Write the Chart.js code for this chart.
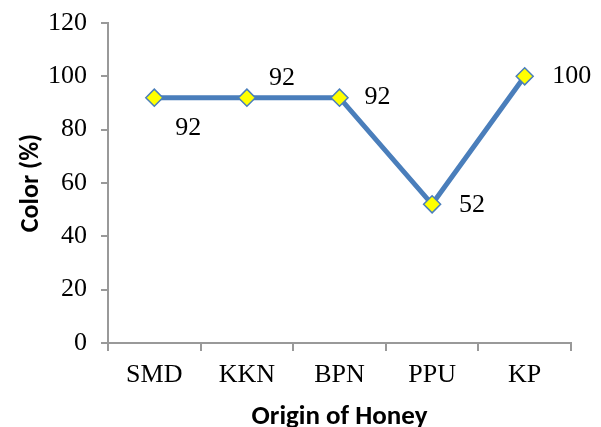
<!DOCTYPE html>
<html>
<head>
<meta charset="utf-8">
<script src="https://cdn.jsdelivr.net/npm/chart.js@4/dist/chart.umd.min.js"></script>
<style>
html,body{margin:0;padding:0;background:#fff;}
#wrap{width:601px;height:427px;position:relative;}
</style>
</head>
<body>
<div id="wrap"><canvas id="c" width="601" height="427"></canvas></div>
<script>
const categories = ["SMD", "KKN", "BPN", "PPU", "KP"];
const colorValues = [92, 92, 92, 52, 100];
const yTicks = [0, 20, 40, 60, 80, 100, 120];

const SERIF = '"Liberation Serif", "Times New Roman", serif';
const SANS = 'Carlito, Calibri, "Liberation Sans", sans-serif';

const labelPlugin = {
  id: 'pointLabels',
  afterDatasetsDraw(chart) {
    const offs = [[34, 31], [35, -19], [38, 0], [40, 1], [47, 0]];
    const ctx = chart.ctx;
    const meta = chart.getDatasetMeta(0);
    ctx.save();
    ctx.font = '26px ' + SERIF;
    ctx.fillStyle = '#000';
    ctx.textAlign = 'center';
    ctx.textBaseline = 'middle';
    meta.data.forEach((pt, i) => {
      const o = offs[i] || [35, 0];
      ctx.fillText(String(colorValues[i]), pt.x + o[0], pt.y + o[1]);
    });
    ctx.restore();
  }
};

new Chart(document.getElementById('c'), {
  type: 'line',
  data: {
    labels: categories,
    datasets: [{
      data: colorValues,
      borderColor: '#4a7ebb',
      borderWidth: 5,
      tension: 0,
      pointStyle: 'rectRot',
      pointRadius: 8.5,
      pointHoverRadius: 8.5,
      pointBackgroundColor: '#ffff00',
      pointBorderColor: '#4a7ebb',
      pointBorderWidth: 1.5,
      fill: false
    }]
  },
  options: {
    responsive: false,
    animation: false,
    events: [],
    layout: { padding: { top: 23, right: 30, left: 0, bottom: 0 } },
    plugins: { legend: { display: false }, tooltip: { enabled: false } },
    scales: {
      x: {
        type: 'category',
        offset: true,
        grid: { display: true, drawOnChartArea: false, drawTicks: true, tickLength: 8, color: '#999', lineWidth: 2, offset: true },
        border: { display: true, color: '#999', width: 2 },
        ticks: { color: '#000', font: { family: SERIF, size: 26 }, padding: 9, maxRotation: 0 },
        title: { display: true, text: 'Origin of Honey', color: '#000', font: { family: SANS, size: 27, weight: 'bold', lineHeight: 0.85 }, padding: { top: 0, bottom: -2 } },
        afterFit(scale) { scale.height = 84; scale.paddingLeft = 0; scale.paddingRight = 0; }
      },
      y: {
        min: 0, max: 120,
        afterBuildTicks(scale) { scale.ticks = yTicks.map(v => ({ value: v })); },
        grid: { display: true, drawOnChartArea: false, drawTicks: true, tickLength: 7, color: '#999', lineWidth: 2 },
        border: { display: true, color: '#999', width: 2 },
        ticks: { color: '#000', font: { family: SERIF, size: 26 }, padding: 14 },
        title: { display: true, text: 'Color (%)', color: '#000', font: { family: SANS, size: 26, weight: 'bold', lineHeight: 1 }, padding: { top: 18, bottom: 0 } },
        afterFit(scale) { scale.width = 108; scale.paddingTop = 0; scale.paddingBottom = 0; }
      }
    }
  },
  plugins: [labelPlugin]
});
</script>
</body>
</html>
